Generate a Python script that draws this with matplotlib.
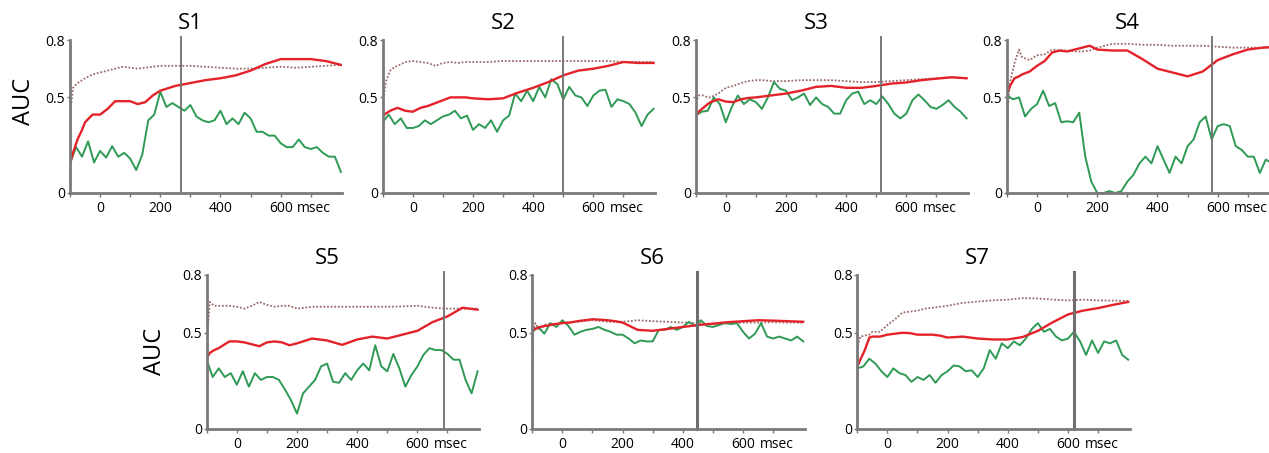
import numpy as np
import matplotlib
matplotlib.use('Agg')
import matplotlib.pyplot as plt

plt.rcParams['font.family'] = ['Open Sans', 'DejaVu Sans']

# time grids (ms)
T_SMOOTH = [-100, -97, -90, -75, -60, -50, -25, 0, 25, 50, 75, 100, 125, 150, 175,
            200, 250, 300, 350, 400, 450, 500, 550, 600, 650, 700, 750, 800]
T_GREEN = list(range(-100, 801, 20))

names = ['S1', 'S2', 'S3', 'S4', 'S5', 'S6', 'S7']
onsets = [270, 500, 515, 580, 690, 448, 620]

# dotted (brown) curves
dot_s1 = [0, 0.45, 0.55, 0.575, 0.59, 0.6, 0.62, 0.63, 0.64, 0.65, 0.66, 0.655, 0.65, 0.655, 0.66,
          0.665, 0.665, 0.665, 0.66, 0.655, 0.65, 0.65, 0.655, 0.66, 0.655, 0.66, 0.665, 0.67]
dot_s2 = [0, 0.5, 0.58, 0.64, 0.66, 0.665, 0.685, 0.69, 0.685, 0.68, 0.665, 0.68, 0.685, 0.68, 0.685,
          0.685, 0.685, 0.69, 0.69, 0.69, 0.69, 0.69, 0.69, 0.69, 0.69, 0.685, 0.685, 0.685]
dot_s3 = [0, 0.48, 0.51, 0.51, 0.5, 0.5, 0.52, 0.55, 0.56, 0.575, 0.585, 0.59, 0.59, 0.585, 0.585,
          0.585, 0.59, 0.59, 0.59, 0.585, 0.58, 0.58, 0.585, 0.59, 0.595, 0.6, 0.605, 0.6]
dot_s4 = [0, 0.45, 0.58, 0.68, 0.75, 0.71, 0.695, 0.72, 0.725, 0.75, 0.745, 0.745, 0.74, 0.74, 0.745,
          0.76, 0.78, 0.78, 0.775, 0.775, 0.77, 0.77, 0.77, 0.765, 0.76, 0.76, 0.76, 0.76]
dot_s5 = [0, 0.5, 0.66, 0.64, 0.64, 0.64, 0.64, 0.635, 0.625, 0.64, 0.66, 0.645, 0.635, 0.64, 0.64,
          0.625, 0.635, 0.635, 0.635, 0.635, 0.635, 0.635, 0.637, 0.64, 0.63, 0.625, 0.625, 0.625]
dot_s6 = [0, 0.5, 0.55, 0.51, 0.54, 0.545, 0.545, 0.55, 0.555, 0.557, 0.562, 0.565, 0.562, 0.557, 0.557,
          0.557, 0.565, 0.56, 0.557, 0.553, 0.55, 0.545, 0.55, 0.553, 0.553, 0.555, 0.553, 0.553]
dot_s7 = [0, 0.44, 0.48, 0.485, 0.49, 0.505, 0.505, 0.54, 0.57, 0.605, 0.61, 0.615, 0.625, 0.63, 0.635,
          0.64, 0.655, 0.662, 0.668, 0.672, 0.68, 0.678, 0.672, 0.668, 0.672, 0.668, 0.667, 0.665]

# red curves
red_s1 = [0.155, 0.17, 0.21, 0.28, 0.33, 0.37, 0.41, 0.41, 0.44, 0.48, 0.48, 0.48, 0.465, 0.475, 0.51,
          0.535, 0.56, 0.575, 0.59, 0.6, 0.615, 0.64, 0.675, 0.70, 0.70, 0.70, 0.69, 0.67]
red_s2 = [0.40, 0.405, 0.415, 0.43, 0.44, 0.445, 0.43, 0.425, 0.445, 0.455, 0.47, 0.485, 0.50, 0.50, 0.50,
          0.495, 0.49, 0.495, 0.525, 0.55, 0.58, 0.615, 0.64, 0.65, 0.665, 0.685, 0.68, 0.68]
red_s3 = [0.40, 0.41, 0.425, 0.445, 0.465, 0.475, 0.49, 0.478, 0.475, 0.49, 0.497, 0.50, 0.505, 0.51, 0.515,
          0.52, 0.535, 0.555, 0.56, 0.55, 0.55, 0.56, 0.572, 0.578, 0.59, 0.598, 0.605, 0.6]
red_s4 = [0.51, 0.53, 0.56, 0.60, 0.61, 0.62, 0.635, 0.665, 0.69, 0.735, 0.745, 0.74, 0.75, 0.76, 0.77,
          0.75, 0.745, 0.745, 0.70, 0.65, 0.63, 0.61, 0.635, 0.695, 0.725, 0.75, 0.76, 0.765]
red_s5 = [0.365, 0.375, 0.395, 0.41, 0.42, 0.43, 0.455, 0.455, 0.45, 0.44, 0.43, 0.45, 0.455, 0.45, 0.435,
          0.445, 0.47, 0.46, 0.437, 0.465, 0.48, 0.47, 0.49, 0.51, 0.555, 0.585, 0.63, 0.62]
red_s6 = [0.515, 0.517, 0.52, 0.53, 0.535, 0.537, 0.545, 0.55, 0.553, 0.56, 0.565, 0.57, 0.568, 0.565, 0.56,
          0.553, 0.515, 0.51, 0.52, 0.53, 0.54, 0.547, 0.555, 0.56, 0.565, 0.563, 0.56, 0.557]
red_s7 = [0.325, 0.335, 0.36, 0.41, 0.475, 0.48, 0.48, 0.49, 0.495, 0.5, 0.498, 0.49, 0.49, 0.49, 0.485,
          0.475, 0.48, 0.47, 0.465, 0.465, 0.478, 0.51, 0.555, 0.595, 0.615, 0.628, 0.645, 0.66]

# green curves (20 ms steps)
green_s1 = [0.155, 0.24, 0.19, 0.27, 0.16, 0.22, 0.185, 0.245, 0.19, 0.21, 0.18, 0.12, 0.2, 0.38, 0.41,
            0.53, 0.45, 0.47, 0.45, 0.43, 0.46, 0.40, 0.38, 0.37, 0.38, 0.43, 0.36, 0.39, 0.36, 0.42,
            0.39, 0.32, 0.32, 0.30, 0.30, 0.26, 0.24, 0.24, 0.28, 0.24, 0.23, 0.24, 0.21, 0.19, 0.19, 0.11]
green_s2 = [0.37, 0.41, 0.36, 0.39, 0.34, 0.34, 0.35, 0.38, 0.36, 0.38, 0.40, 0.41, 0.43, 0.39, 0.405,
            0.33, 0.36, 0.34, 0.38, 0.32, 0.38, 0.405, 0.52, 0.48, 0.535, 0.48, 0.555, 0.50, 0.595, 0.57,
            0.49, 0.555, 0.51, 0.50, 0.455, 0.51, 0.535, 0.54, 0.45, 0.49, 0.48, 0.465, 0.42, 0.35, 0.41, 0.44]
green_s3 = [0.405, 0.425, 0.43, 0.50, 0.465, 0.37, 0.45, 0.51, 0.465, 0.49, 0.475, 0.44, 0.50, 0.58, 0.545,
            0.535, 0.485, 0.50, 0.52, 0.46, 0.50, 0.465, 0.45, 0.415, 0.415, 0.485, 0.52, 0.53, 0.465, 0.485,
            0.465, 0.505, 0.465, 0.415, 0.39, 0.415, 0.485, 0.515, 0.485, 0.45, 0.44, 0.46, 0.485, 0.45, 0.425, 0.39]
green_s4 = [0.51, 0.49, 0.50, 0.40, 0.44, 0.465, 0.535, 0.455, 0.47, 0.37, 0.375, 0.37, 0.42, 0.19, 0.06,
            0.0, 0.0, 0.01, 0.0, 0.01, 0.06, 0.095, 0.155, 0.19, 0.155, 0.245, 0.175, 0.105, 0.19, 0.155,
            0.245, 0.28, 0.37, 0.40, 0.28, 0.35, 0.36, 0.35, 0.245, 0.225, 0.19, 0.19, 0.105, 0.175, 0.155, 0.17]
green_s5 = [0.36, 0.27, 0.315, 0.27, 0.29, 0.23, 0.30, 0.22, 0.29, 0.255, 0.27, 0.27, 0.255, 0.205, 0.15,
            0.08, 0.185, 0.22, 0.255, 0.325, 0.34, 0.245, 0.24, 0.29, 0.255, 0.305, 0.34, 0.305, 0.435, 0.325,
            0.30, 0.39, 0.315, 0.22, 0.28, 0.325, 0.385, 0.42, 0.41, 0.41, 0.39, 0.36, 0.36, 0.255, 0.185, 0.30]
green_s6 = [0.505, 0.53, 0.495, 0.55, 0.53, 0.565, 0.535, 0.49, 0.505, 0.515, 0.52, 0.53, 0.515, 0.505, 0.49,
            0.49, 0.47, 0.445, 0.46, 0.455, 0.455, 0.515, 0.515, 0.53, 0.515, 0.53, 0.557, 0.535, 0.565, 0.535,
            0.53, 0.54, 0.55, 0.545, 0.55, 0.505, 0.47, 0.495, 0.55, 0.48, 0.47, 0.48, 0.47, 0.46, 0.48, 0.455]
green_s7 = [0.315, 0.325, 0.365, 0.34, 0.30, 0.27, 0.315, 0.29, 0.28, 0.245, 0.27, 0.255, 0.28, 0.24, 0.28,
            0.30, 0.33, 0.325, 0.30, 0.305, 0.27, 0.315, 0.41, 0.365, 0.445, 0.42, 0.455, 0.435, 0.47, 0.52,
            0.55, 0.505, 0.52, 0.48, 0.46, 0.47, 0.505, 0.455, 0.385, 0.46, 0.395, 0.455, 0.445, 0.46, 0.385, 0.36]

dotted = [dot_s1, dot_s2, dot_s3, dot_s4, dot_s5, dot_s6, dot_s7]
reds = [red_s1, red_s2, red_s3, red_s4, red_s5, red_s6, red_s7]
greens = [green_s1, green_s2, green_s3, green_s4, green_s5, green_s6, green_s7]

W, H = 1269, 453
# panel placement in pixels: left of axis, y of 0.8, y of 0
panel_px = [(70, 40, 193), (382.7, 40, 193), (695.7, 40, 193), (1007, 40, 193),
            (206.7, 275, 429), (532.3, 275, 429), (857.3, 275, 429)]
panel_w = 272.4
vline_w = [1.3, 1.3, 1.3, 1.3, 1.3, 2.2, 2.2]

GRAY = '#7a7a7a'
RED = '#e4222a'
GREEN = '#2e9a55'
BROWN = '#9c6a6a'

fig = plt.figure(figsize=(W / 100, H / 100), dpi=100)

for i, name in enumerate(names):
    lx, ty, by = panel_px[i]
    ax = fig.add_axes([lx / W, 1 - by / H, panel_w / W, (by - ty) / H])
    ax.plot(T_SMOOTH, dotted[i], color=BROWN, lw=1.3, ls=(0, (1, 1)), zorder=2)
    ax.plot(T_GREEN, greens[i], color=GREEN, lw=1.4, zorder=3)
    ax.plot(T_SMOOTH, reds[i], color=RED, lw=1.7, zorder=4)
    ax.axvline(onsets[i], ymin=0, ymax=1.02, color='#6e6e6e', lw=vline_w[i], clip_on=False, zorder=5)

    ax.set_xlim(-100, 805)
    ax.set_ylim(0, 0.8)
    for s in ['top', 'right']:
        ax.spines[s].set_visible(False)
    for s in ['left', 'bottom']:
        ax.spines[s].set_color(GRAY)
        ax.spines[s].set_linewidth(2)
        ax.spines[s].set_zorder(6)

    ax.set_xticks([0, 200, 400, 600])
    ax.set_xticklabels(['0', '200', '400', '600'])
    ax.set_xticks([-100, 100, 300, 500, 700], minor=True)
    ax.set_yticks([0, 0.5, 0.8])
    ax.set_yticklabels(['0', '0.5', '0.8'])
    ax.tick_params(axis='x', which='both', length=3, width=1, color=GRAY, pad=2.5, labelsize=10)
    ax.tick_params(axis='y', length=2, width=1, color=GRAY, pad=1.5, labelsize=10)
    ax.annotate('msec', xy=(655, 0), xycoords=('data', 'axes fraction'),
                xytext=(0, -5.5), textcoords='offset points', ha='left', va='top', fontsize=10)
    ax.text(300, 1.11, name, transform=ax.get_xaxis_transform(),
            ha='center', va='center', fontsize=16)

fig.text(24 / W, 1 - 101.5 / H, 'AUC', rotation=90, ha='center', va='center', fontsize=17)
fig.text(155 / W, 1 - 351.5 / H, 'AUC', rotation=90, ha='center', va='center', fontsize=17)

fig.savefig('out.png', dpi=100)
